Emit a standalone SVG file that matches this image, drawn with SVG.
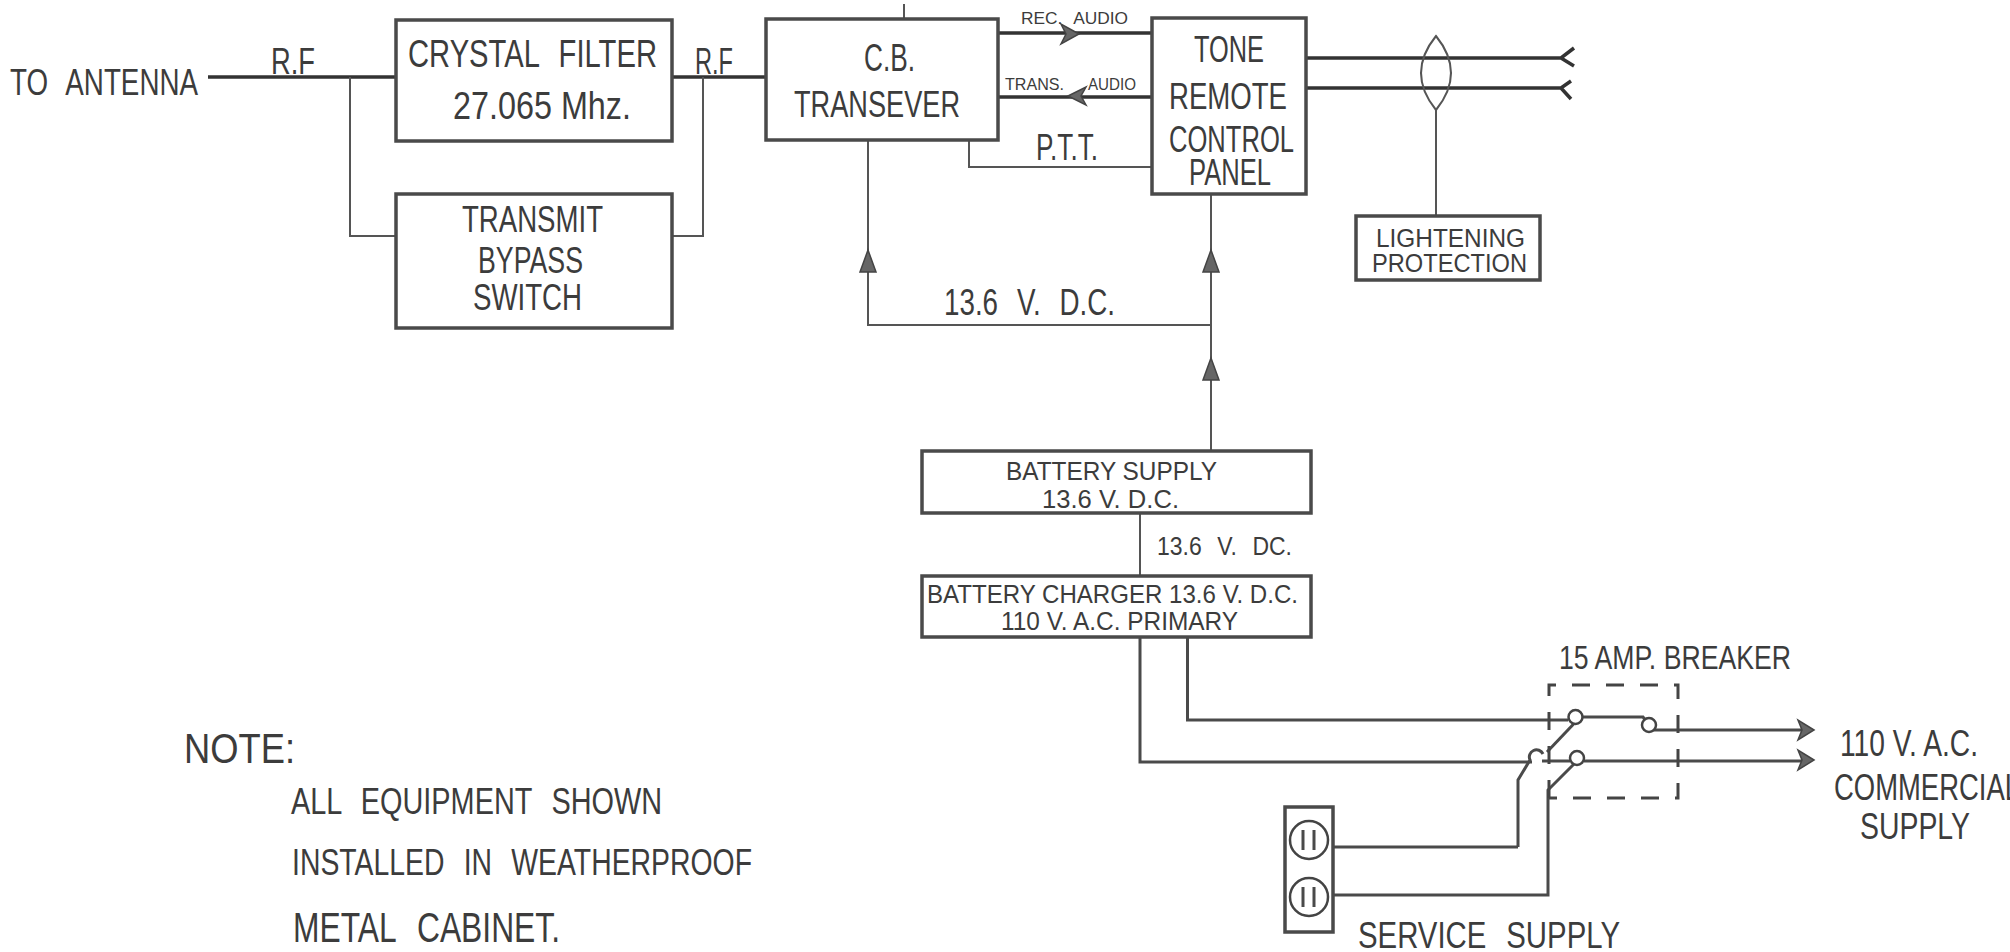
<svg xmlns="http://www.w3.org/2000/svg" width="2010" height="952" viewBox="0 0 2010 952">
<style>
text{font-family:"Liberation Sans",Arial,sans-serif;fill:#3c3c3c;stroke:none;font-size:36px}
.s17{font-size:17px}.s25{font-size:25px}.s34{font-size:34px}.s38{font-size:38px}.s42{font-size:42px}
.ws{word-spacing:.4em}
.box{fill:#fff;stroke:#4a4a4a;stroke-width:3.5}
.w{fill:none;stroke:#4a4a4a;stroke-width:3;stroke-linejoin:miter}
.t{fill:none;stroke:#555;stroke-width:2}
.h{fill:none;stroke:#333;stroke-width:3.5}
.d{fill:none;stroke:#444;stroke-width:3;stroke-dasharray:18 16}
.c{fill:#fff;stroke:#444;stroke-width:2.5}
.a{fill:#666;stroke:#444;stroke-width:1.5}
</style>
<rect width="2010" height="952" fill="#fff"/>
<g id="connectors">
<path class="h" d="M208 77H396M672 77H766"/>
<path class="t" d="M350 77V236H396M703 77V236H672"/>
<path class="t" d="M904 4V19"/>
<path class="t" d="M868 140V325H1210"/>
<path class="t" d="M1211 194V451"/>
<path class="t" d="M969 140V167H1152"/>
<path class="h" d="M998 33H1152M998 97H1152"/>
<path class="h" d="M1306 58H1561L1574 48M1561 58L1574 66M1306 88H1561L1571 81M1561 88L1571 99"/>
<path class="t" d="M1436 36Q1406 73 1436 110Q1466 73 1436 36Z"/>
<path class="t" d="M1436 110V216"/>
<path class="t" d="M1140 513V576"/>
<path class="w" d="M1187.500 637V720H1568"/>
<path class="w" d="M1140 637V762H1532M1542 761H1570M1584 761H1802"/>
<path class="w" d="M1580 717H1643L1649 725V730H1802"/>
<path class="w" d="M1575.500 722L1547 752"/>
<path class="w" d="M1518 847V780L1530 760A7 7 0 0 1 1543 754"/>
<path class="w" d="M1333 847H1518"/>
<path class="w" d="M1333 895H1548V790L1574 764"/>
<path class="d" d="M1549 798V685H1678V798H1549"/>
<path class="a" d="M868 250L876 272H860Z"/>
<path class="a" d="M1211 250L1219 272H1203Z"/>
<path class="a" d="M1211 358L1219 380H1203Z"/>
<path class="a" d="M1079 34L1061 24L1066 34L1061 44Z"/>
<path class="a" d="M1068 96L1086 87L1081 96L1086 105Z"/>
<path class="a" d="M1814 730L1798 720L1802 730L1798 740Z"/>
<path class="a" d="M1814 760L1798 750L1802 760L1798 770Z"/>
<circle class="c" cx="1575.500" cy="717" r="7"/>
<circle class="c" cx="1649" cy="725" r="7"/>
<circle class="c" cx="1577" cy="758" r="7"/>
</g>
<g id="antenna-label"><text class="ws" x="10" y="95" textLength="188" lengthAdjust="spacingAndGlyphs">TO ANTENNA</text></g>
<g id="rf-label-1"><text x="271" y="74" textLength="44" lengthAdjust="spacingAndGlyphs">R.F</text></g>
<g id="rf-label-2"><text x="695" y="74" textLength="38" lengthAdjust="spacingAndGlyphs">R.F</text></g>
<g id="crystal-filter"><rect class="box" x="396" y="20" width="276" height="121"/>
<text class="s38 ws" x="408" y="67" textLength="249" lengthAdjust="spacingAndGlyphs">CRYSTAL FILTER</text>
<text class="s38" x="453" y="119" textLength="178" lengthAdjust="spacingAndGlyphs">27.065 Mhz.</text></g>
<g id="transmit-bypass"><rect class="box" x="396" y="194" width="276" height="134"/>
<text x="462" y="232" textLength="141" lengthAdjust="spacingAndGlyphs">TRANSMIT</text>
<text x="478" y="273" textLength="105" lengthAdjust="spacingAndGlyphs">BYPASS</text>
<text x="473" y="310" textLength="109" lengthAdjust="spacingAndGlyphs">SWITCH</text></g>
<g id="cb-transever"><rect class="box" x="766" y="19" width="232" height="121"/>
<text class="s38" x="864" y="71" textLength="51" lengthAdjust="spacingAndGlyphs">C.B.</text>
<text x="794" y="117" textLength="166" lengthAdjust="spacingAndGlyphs">TRANSEVER</text></g>
<g id="tone-remote"><rect class="box" x="1152" y="18" width="154" height="176"/>
<text x="1194" y="62" textLength="70" lengthAdjust="spacingAndGlyphs">TONE</text>
<text x="1169" y="109" textLength="118" lengthAdjust="spacingAndGlyphs">REMOTE</text>
<text x="1169" y="152" textLength="125" lengthAdjust="spacingAndGlyphs">CONTROL</text>
<text x="1189" y="185" textLength="82" lengthAdjust="spacingAndGlyphs">PANEL</text></g>
<g id="lightening-protection"><rect class="box" x="1356" y="216" width="184" height="64"/>
<text class="s25" x="1376" y="247" textLength="149" lengthAdjust="spacingAndGlyphs">LIGHTENING</text>
<text class="s25" x="1372" y="272" textLength="155" lengthAdjust="spacingAndGlyphs">PROTECTION</text></g>
<g id="battery-supply"><rect class="box" x="922" y="451" width="389" height="62"/>
<text class="s25" x="1006" y="480" textLength="211" lengthAdjust="spacingAndGlyphs">BATTERY SUPPLY</text>
<text class="s25" x="1042" y="508" textLength="137" lengthAdjust="spacingAndGlyphs">13.6 V. D.C.</text></g>
<g id="battery-charger"><rect class="box" x="922" y="576" width="389" height="61"/>
<text class="s25" x="927" y="603" textLength="371" lengthAdjust="spacingAndGlyphs">BATTERY CHARGER 13.6 V. D.C.</text>
<text class="s25" x="1001" y="630" textLength="237" lengthAdjust="spacingAndGlyphs">110 V. A.C. PRIMARY</text></g>
<g id="service-supply"><rect class="box" x="1285" y="807" width="48" height="125"/>
<circle class="c" cx="1309" cy="840" r="19"/><circle class="c" cx="1309" cy="897" r="19"/>
<path class="w" d="M1303 830V850M1314 830V850M1303 887V907M1314 887V907"/>
<text class="ws" x="1358" y="948" textLength="262" lengthAdjust="spacingAndGlyphs">SERVICE SUPPLY</text></g>
<g id="labels">
<text class="s17 ws" x="1021" y="24" textLength="107" lengthAdjust="spacingAndGlyphs">REC. AUDIO</text>
<text class="s17" x="1005" y="90" textLength="59" lengthAdjust="spacingAndGlyphs">TRANS.</text>
<text class="s17" x="1088" y="90" textLength="48" lengthAdjust="spacingAndGlyphs">AUDIO</text>
<text x="1036" y="160" textLength="62" lengthAdjust="spacingAndGlyphs">P.T.T.</text>
<text class="ws" x="944" y="315" textLength="171" lengthAdjust="spacingAndGlyphs">13.6 V. D.C.</text>
<text class="s25 ws" x="1157" y="555" textLength="135" lengthAdjust="spacingAndGlyphs">13.6 V. DC.</text>
<text class="s34" x="1559" y="669" textLength="232" lengthAdjust="spacingAndGlyphs">15 AMP. BREAKER</text>
<text x="1840" y="756" textLength="138" lengthAdjust="spacingAndGlyphs">110 V. A.C.</text>
<text x="1834" y="800" textLength="186" lengthAdjust="spacingAndGlyphs">COMMERCIAL</text>
<text x="1860" y="839" textLength="110" lengthAdjust="spacingAndGlyphs">SUPPLY</text>
</g>
<g id="note">
<text class="s42" x="184" y="763" textLength="111" lengthAdjust="spacingAndGlyphs">NOTE:</text>
<text class="ws" x="291" y="814" textLength="371" lengthAdjust="spacingAndGlyphs">ALL EQUIPMENT SHOWN</text>
<text class="ws" x="292" y="875" textLength="460" lengthAdjust="spacingAndGlyphs">INSTALLED IN WEATHERPROOF</text>
<text class="s42 ws" x="293" y="942" textLength="267" lengthAdjust="spacingAndGlyphs">METAL CABINET.</text>
</g>
</svg>
